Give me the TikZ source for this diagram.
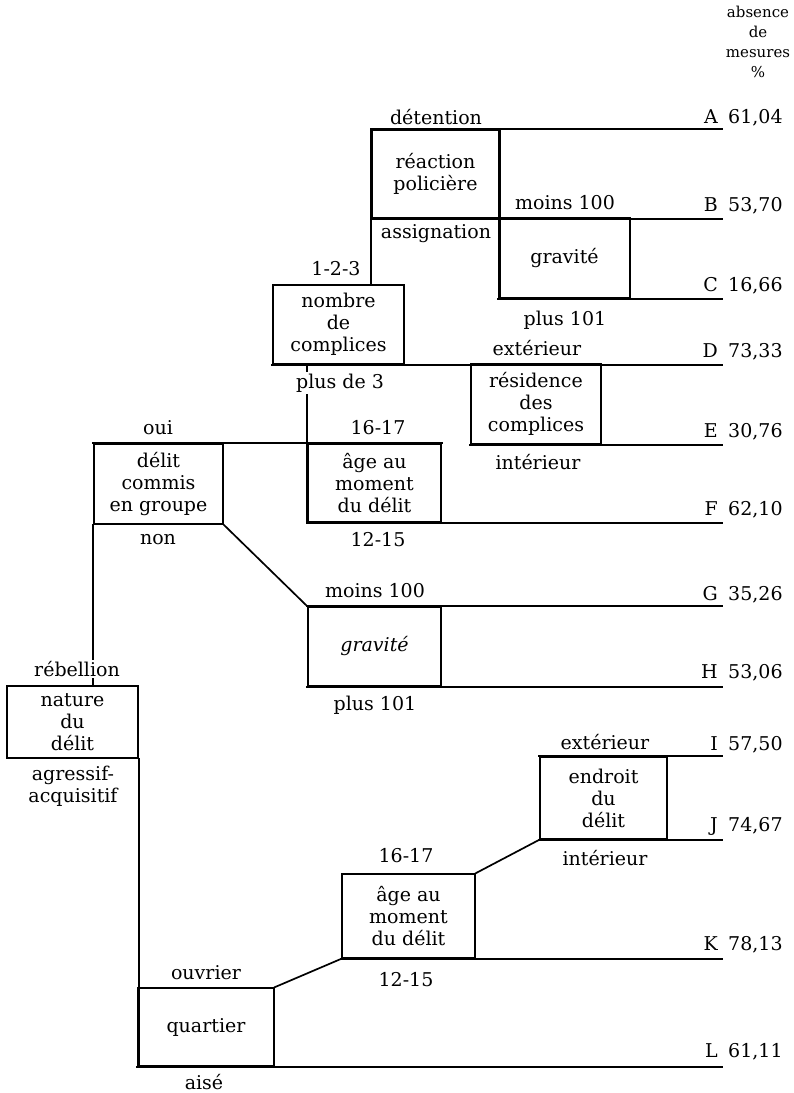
\documentclass[tikz,border=0pt]{standalone}
\usepackage{fontspec}
\setmainfont{DejaVu Serif}
\begin{document}
\begin{tikzpicture}[x=1pt,y=-1pt,
  every node/.style={font=\fontsize{19}{22}\selectfont},
  ln/.style={line width=1.7pt, line cap=rect},
  box/.style={draw, line width=1.7pt, inner sep=0pt, align=center, rectangle},
  lab/.style={inner sep=0pt, align=center},
  wlab/.style={lab, fill=white, inner sep=1.5pt},
  let/.style={inner sep=0pt, anchor=base east},
  val/.style={inner sep=0pt, anchor=base west}]
\useasboundingbox (0,0) rectangle (793,1093);
\coordinate (R) at (722,0);

% boxes
\node[box, minimum width=127pt, minimum height=88pt] (react) at (435.5,174) {réaction\\policière};
\node[box, minimum width=131pt, minimum height=80pt] (grav1) at (564.5,258) {gravité};
\node[box, minimum width=131pt, minimum height=79pt] (nombre) at (338.5,324.5) {nombre\\de\\complices};
\node[box, minimum width=130pt, minimum height=80pt] (resid) at (536,404) {résidence\\des\\complices};
\node[box, minimum width=129pt, minimum height=80pt] (delit) at (158.5,484) {délit\\commis\\en groupe};
\node[box, minimum width=133pt, minimum height=78pt] (age1) at (374.5,483) {âge au\\moment\\du délit};
\node[box, minimum width=133pt, minimum height=79pt] (grav2) at (374.5,646.5) {\itshape gravité};
\node[box, minimum width=131pt, minimum height=72pt] (nature) at (72.5,722) {nature\\du\\délit};
\node[box, minimum width=136pt, minimum height=78pt] (quart) at (206,1027) {quartier};
\node[box, minimum width=133pt, minimum height=84pt] (age2) at (408.5,916) {âge au\\moment\\du délit};
\node[box, minimum width=127pt, minimum height=82pt] (endr) at (603.5,798) {endroit\\du\\délit};

% horizontal result lines
\draw[ln] (react.north west) -- (react.north west -| R);
\draw[ln] (react.south west) -- (react.south west -| R);
\draw[ln] (grav1.south west) -- (grav1.south west -| R);
\draw[ln] (nombre.south west) -- (nombre.south west -| R);
\draw[ln] (resid.south west) -- (resid.south west -| R);
\draw[ln] (delit.north west) -- (age1.north east);
\draw[ln] (age1.south west) -- (age1.south west -| R);
\draw[ln] (grav2.north west) -- (grav2.north west -| R);
\draw[ln] (grav2.south west) -- (grav2.south west -| R);
\draw[ln] (endr.north west) -- (endr.north west -| R);
\draw[ln] (endr.south west) -- (endr.south west -| R);
\draw[ln] (age2.south west) -- (age2.south west -| R);
\draw[ln] (quart.south west) -- (quart.south west -| R);

% vertical connectors
\draw[ln] (react.north west) -- (react.north west |- nombre.north);
\draw[ln] (react.north east) -- (react.north east |- grav1.south);
\draw[ln] (age1.north west |- nombre.south) -- (age1.south west);
\draw[ln] (delit.south west) -- (delit.south west |- nature.north);
\draw[ln] (nature.south east) -- (nature.south east |- quart.south);

% diagonal connectors
\draw[ln] (delit.south east) -- (grav2.north west);
\draw[ln] (quart.north east) -- (age2.south west);
\draw[ln] (age2.north east) -- (endr.south west);

% branch labels
\node[lab] (l1) at (436,117) {détention};
\node[lab] (l2) at (565,203) {moins 100};
\node[lab] (l3) at (436,234) {assignation};
\node[lab] (l4) at (565,320) {plus 101};
\node[lab] (l5) at (336,269) {1-2-3};
\node[lab] (l6) at (537,348) {extérieur};
\node[wlab] (l7) at (340,383) {plus de 3};
\node[lab] (l8) at (538,462) {intérieur};
\node[lab] (l9) at (378,428) {16-17};
\node[lab] (l10) at (158,428) {oui};
\node[lab] (l11) at (158,540) {non};
\node[lab] (l12) at (378,540) {12-15};
\node[lab] (l13) at (375,591) {moins 100};
\node[lab] (l14) at (375,705) {plus 101};
\node[wlab] (l15) at (77,669) {rébellion};
\node[lab] (l16) at (73,786) {agressif-\\acquisitif};
\node[lab] (l17) at (605,742) {extérieur};
\node[lab] (l18) at (605,858) {intérieur};
\node[lab] (l19) at (406,856) {16-17};
\node[lab] (l20) at (406,980) {12-15};
\node[lab] (l21) at (206,973) {ouvrier};
\node[lab] (l22) at (204,1082) {aisé};

% header
\node[lab, font=\fontsize{15}{20}\selectfont] (hd) at (758,42) {absence\\de\\mesures\\\%};

% results column
\node[let] (a1) at (718,123) {A}; \node[val] (a2) at (728,123) {61,04};
\node[let] (b1) at (718,211) {B}; \node[val] (b2) at (728,211) {53,70};
\node[let] (c1) at (718,291) {C}; \node[val] (c2) at (728,291) {16,66};
\node[let] (d1) at (718,357) {D}; \node[val] (d2) at (728,357) {73,33};
\node[let] (e1) at (718,437) {E}; \node[val] (e2) at (728,437) {30,76};
\node[let] (f1) at (718,515) {F}; \node[val] (f2) at (728,515) {62,10};
\node[let] (g1) at (718,600) {G}; \node[val] (g2) at (728,600) {35,26};
\node[let] (h1) at (718,678) {H}; \node[val] (h2) at (728,678) {53,06};
\node[let] (i1) at (718,750) {I}; \node[val] (i2) at (728,750) {57,50};
\node[let] (j1) at (718,831) {J}; \node[val] (j2) at (728,831) {74,67};
\node[let] (k1) at (718,950) {K}; \node[val] (k2) at (728,950) {78,13};
\node[let] (m1) at (718,1057) {L}; \node[val] (m2) at (728,1057) {61,11};
\end{tikzpicture}
\end{document}
